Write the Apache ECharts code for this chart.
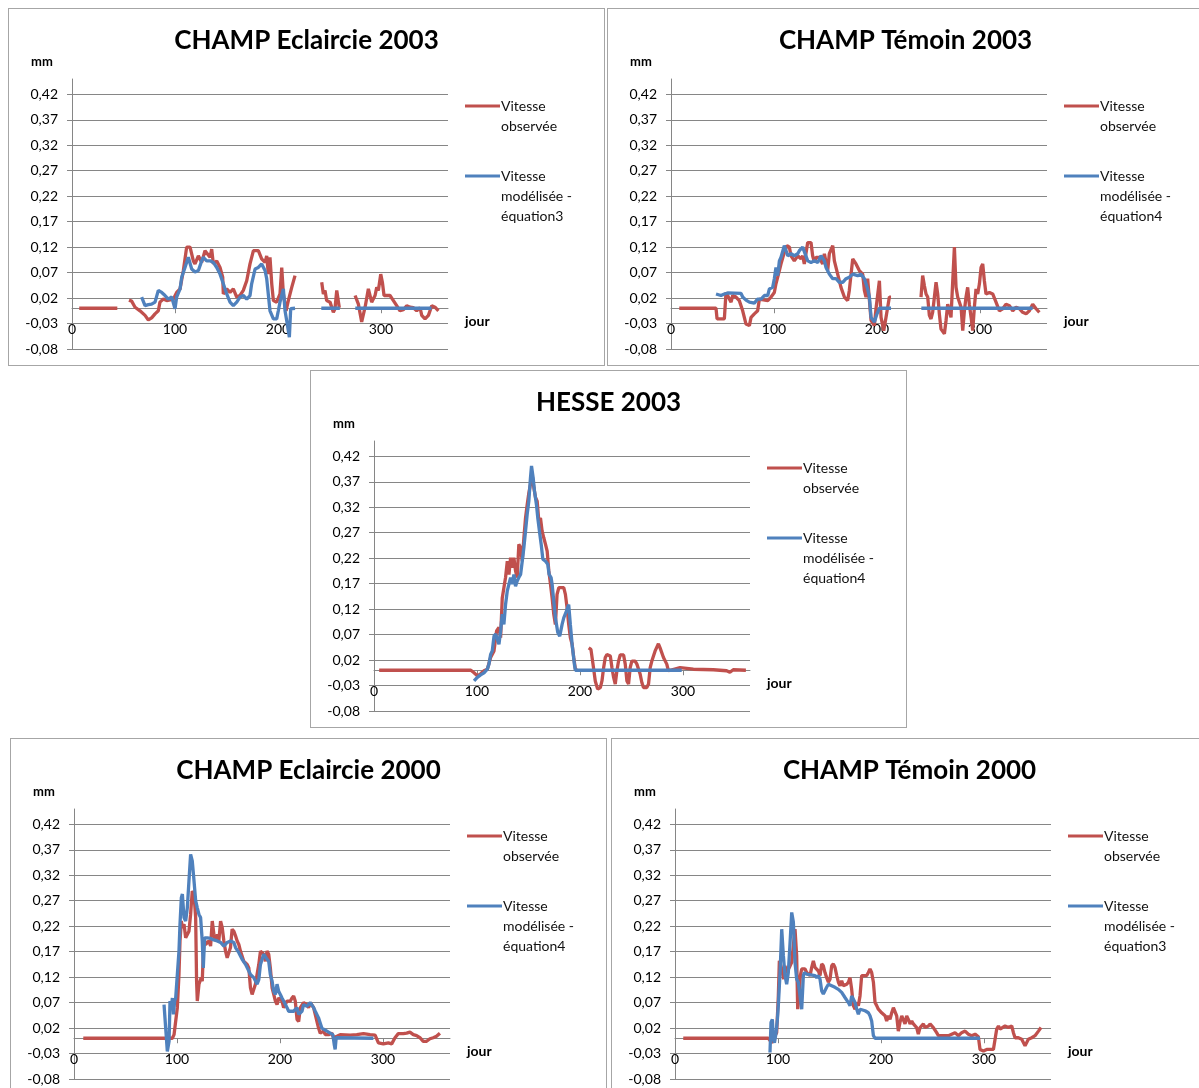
<!DOCTYPE html>
<html lang="fr">
<head>
<meta charset="UTF-8">
<title>Vitesse observée et modélisée</title>
<script src="https://cdn.jsdelivr.net/npm/echarts@6/dist/echarts.min.js"></script>
<style>
    body { margin: 0; background: #fff; width: 1199px; height: 1088px; overflow: hidden; position: relative; }
    .panel { position: absolute; width: 595px; height: 356px; border: 1px solid #a6a6a6; background: #fff; }
</style>
</head>
<body>
<div class="panel" id="p1" style="left:8px;top:8px"></div>
<div class="panel" id="p2" style="left:607px;top:8px"></div>
<div class="panel" id="p3" style="left:310px;top:370px"></div>
<div class="panel" id="p4" style="left:10px;top:738px"></div>
<div class="panel" id="p5" style="left:611px;top:738px"></div>
<script>
    // graduations
    var xTicks = [0, 100, 200, 300];
    var yTicks = [-0.08, -0.03, 0.02, 0.07, 0.12, 0.17, 0.22, 0.27, 0.32, 0.37, 0.42];

    // [jour, mm] ; null = trou dans la courbe
    var eclaircie2003Obs = [
        [7,0],[44,0],[50,null],
        [55.3,0.016],[57.9,0.014],[61.2,0.002],[66,-0.005],[70.9,-0.014],[74.1,-0.023],[77.3,-0.019],[80.6,-0.011],[83.8,-0.005],[85.4,0.012],[88.7,0.018],[91.9,0.015],[98.4,0.018],[101.6,0.031],[104.9,0.038],[108.1,0.074],[111.3,0.12],[114.6,0.12],[117.8,0.093],[119.4,0.087],[122.7,0.103],[125.9,0.09],[129.1,0.113],[130.7,0.116],[134,0.1],[135.6,0.116],[137.2,0.087],[140.5,0.093],[143.7,0.08],[146.3,0.061],[146.9,0.028],[150.2,0.038],[153.4,0.031],[156.6,0.038],[159.9,0.022],[163.1,0.025],[166.3,0.035],[169.6,0.054],[172.8,0.087],[176.1,0.113],[180.9,0.113],[184.1,0.097],[187.4,0.09],[189,0.103],[190.6,0.067],[192.2,0.1],[193.9,0.048],[195.5,0.015],[198.7,0.012],[201.9,0.028],[203.6,0.08],[205.2,0.028],[207.8,-0.005],[210,0.015],[213.3,0.041],[216.5,0.064],[230,null],
        [242.4,0.051],[244,0.028],[245.6,0.035],[247.2,0.015],[250.5,0.012],[253.7,-0.008],[255.3,-0.001],[257,0.035],[258.6,0.035],[259.5,0.001],[267,null],
        [274.8,0.025],[278,0.008],[281.2,-0.027],[284.5,0.002],[287.7,0.038],[290.9,0.012],[294.2,0.025],[295.8,0.041],[297.4,0.035],[299.7,0.067],[301.3,0.051],[302.9,0.025],[308.7,0.025],[312,0.015],[315.2,0.005],[318.4,-0.005],[321.7,-0.003],[324.9,0.005],[328.2,0.002],[331.4,0.001],[334.6,-0.005],[337.9,0.001],[339.5,-0.014],[342.7,-0.021],[346,-0.014],[349.2,0.005],[352.4,0.002],[355.7,-0.005]
    ];
    var eclaircie2003Mod = [
        [67.6,0.022],[70.9,0.005],[74.1,0.007],[77.3,0.008],[80.6,0.012],[83.8,0.035],[87.1,0.031],[90.3,0.025],[93.5,0.018],[96.8,0.022],[100,-0.001],[101.6,0.022],[104.9,0.038],[106.5,0.061],[109.7,0.08],[112.9,0.1],[116.2,0.077],[119.4,0.071],[122.7,0.074],[125.9,0.093],[127.5,0.1],[130.7,0.093],[134,0.093],[137.2,0.09],[140.5,0.08],[143.7,0.067],[146.9,0.048],[150.2,0.028],[153.4,0.012],[156.6,0.005],[159.9,0.012],[163.1,0.022],[166.3,0.025],[169.6,0.018],[172.8,0.025],[174.4,0.048],[177.7,0.077],[180.9,0.08],[184.1,0.087],[187.4,0.074],[189,0.058],[192.2,-0.005],[195.5,-0.021],[198.7,-0.021],[200.3,-0.005],[201.9,0.012],[205.2,0.038],[206.8,-0.005],[208.4,-0.024],[211,-0.057],[212.3,-0.001],[216.5,0],[230,null],
        [242,0],[260,0],[267,null],
        [275,0],[349,0]
    ];

    var temoin2003Obs = [
        [8,0],[43.7,0],[44.7,-0.021],[51.8,-0.021],[53.4,0.031],[58.3,0.012],[59.9,0.025],[63.1,0.022],[66.3,0.015],[69.6,-0.005],[72.8,-0.031],[76.1,-0.034],[77.7,-0.018],[80.9,-0.011],[84.1,-0.005],[85.8,0.018],[93.9,0.015],[97.1,0.022],[100.3,0.031],[101.9,0.048],[105.2,0.074],[106.8,0.087],[110,0.11],[112.6,0.123],[114.9,0.12],[116.5,0.103],[119.7,0.093],[123,0.103],[126.2,0.097],[127.8,0.103],[129.4,0.087],[132.7,0.129],[135.9,0.129],[137.5,0.103],[139.2,0.09],[140.8,0.1],[144,0.1],[147.2,0.087],[148.9,0.107],[152.1,0.074],[153.7,0.107],[157,0.123],[158.6,0.093],[161.8,0.067],[165,0.041],[168.3,0.022],[169.9,0.025],[171.5,0.015],[173.1,0.035],[176.4,0.097],[179.6,0.087],[182.8,0.074],[186.1,0.067],[187.7,0.035],[189.3,0.022],[190.9,0.058],[194.2,-0.024],[197.4,-0.034],[199,-0.001],[202.3,0.054],[203.9,-0.018],[206.5,-0.044],[208.7,-0.018],[212,0.022],[213.6,0.022],[228,null],
        [242.7,0.022],[244.3,0.064],[246,0.044],[247.6,0.028],[249.2,0.022],[250.8,-0.014],[252.4,-0.021],[254,-0.008],[255.7,0.022],[257.3,0.051],[258.9,0.028],[260.5,-0.011],[262.1,-0.041],[265.4,-0.05],[267,-0.024],[268.6,0.008],[270.2,-0.005],[271.8,-0.018],[273.5,0.054],[275.1,0.12],[276.7,0.041],[278.3,0.022],[281.6,0.002],[283.2,-0.044],[284.8,-0.005],[286.4,0.022],[288,0.041],[289.6,0.008],[291.3,-0.018],[292.9,-0.044],[294.5,0.002],[296.1,0.038],[297.7,0.028],[299.4,0.048],[301,0.08],[302.6,0.087],[304.2,0.054],[305.8,0.028],[309.1,0.031],[312.3,0.028],[315.5,0.012],[318.8,-0.005],[322,-0.001],[325.2,0.008],[328.5,0.005],[331.7,-0.005],[335,0.002],[338.2,-0.001],[341.4,-0.008],[344.7,-0.011],[347.9,-0.005],[351.1,0.008],[354.4,-0.001],[357.6,-0.008]
    ];
    var temoin2003Mod = [
        [43.7,0.028],[48.5,0.025],[51.8,0.028],[55,0.03],[68,0.029],[69.6,0.022],[72.8,0.016],[76.1,0.012],[80.9,0.01],[84.1,0.018],[87.4,0.018],[90.6,0.025],[93.9,0.025],[95.5,0.038],[98.7,0.041],[100.3,0.058],[101.9,0.08],[103.6,0.064],[105.2,0.093],[106.8,0.1],[110,0.123],[111.7,0.12],[113.3,0.103],[116.5,0.107],[119.7,0.103],[123,0.107],[124.6,0.113],[127.8,0.12],[129.4,0.123],[132.7,0.093],[135.9,0.09],[139.2,0.093],[142.4,0.09],[145.6,0.103],[148.9,0.093],[150.5,0.08],[153.7,0.067],[157,0.058],[160.2,0.058],[163.4,0.051],[166.7,0.051],[169.9,0.058],[173.1,0.061],[176.4,0.067],[181.2,0.064],[184.5,0.067],[187.7,0.058],[190.9,0.038],[192.6,0.022],[194.2,-0.018],[197.4,-0.027],[200,-0.011],[202.3,0],[213.6,0],[228,null],
        [243,0],[351,0]
    ];

    var hesse2003Obs = [
        [5,0],[94,0],[97.1,-0.005],[100.3,-0.011],[103.5,-0.007],[106.8,-0.001],[110,0.002],[113.2,0.025],[116.5,0.038],[119,0.077],[121.3,0.084],[122.9,0.064],[124.5,0.142],[126.1,0.162],[127.7,0.182],[129.4,0.214],[131,0.188],[132.6,0.221],[134.2,0.201],[135.8,0.221],[137.4,0.195],[139,0.182],[140.6,0.247],[142.3,0.241],[143.9,0.214],[145.5,0.26],[147.1,0.299],[148.7,0.325],[150.3,0.348],[151.9,0.365],[153.5,0.384],[155.2,0.358],[156.8,0.339],[158.4,0.332],[160,0.293],[161.6,0.299],[163.2,0.273],[164.8,0.26],[166.5,0.247],[168.1,0.234],[169.7,0.195],[171.3,0.169],[172.9,0.142],[174.5,0.11],[176.1,0.09],[177.7,0.149],[179.4,0.162],[184.2,0.162],[185.8,0.149],[187.4,0.123],[189,0.09],[190.6,0.064],[192.3,0.051],[193.9,0.025],[195.5,0.002],[197,0],[203,null],
        [208.4,0.044],[210.6,0.041],[212.6,0.012],[214.8,-0.021],[217.1,-0.037],[219.7,-0.034],[221.3,-0.021],[222.9,0.005],[224.5,0.025],[226.1,0.031],[229.4,0.028],[231,0.005],[232.6,-0.014],[234.2,-0.027],[235.8,-0.001],[237.4,0.018],[239,0.03],[242.3,0.03],[243.9,0.012],[245.5,-0.021],[247.1,-0.027],[248.7,0.005],[250.3,0.018],[253.5,0.018],[255.2,0.012],[258.4,-0.008],[260,-0.024],[261.6,-0.034],[264.8,-0.034],[266.5,-0.027],[268.1,0.005],[269.7,0.018],[272.9,0.038],[276.1,0.052],[277.7,0.044],[281,0.025],[284.2,0.012],[285.8,-0.001],[287.4,0.002],[297.1,0.005],[310,0.002],[329.4,0.001],[342.3,-0.001],[345.5,-0.004],[348.7,0.001],[361,0]
    ];
    var hesse2003Mod = [
        [97.1,-0.021],[100.3,-0.014],[103.5,-0.009],[106.8,-0.005],[110,0.002],[111.6,0.012],[113.2,0.031],[114.8,0.038],[116.5,0.067],[118.1,0.071],[119.7,0.061],[121.3,0.051],[122.9,0.077],[124.5,0.11],[126.1,0.09],[127.7,0.129],[129.4,0.156],[131,0.169],[132.6,0.182],[134.2,0.169],[135.8,0.188],[137.4,0.165],[139,0.175],[140.6,0.182],[142.3,0.188],[143.9,0.214],[145.5,0.241],[147.1,0.273],[148.7,0.306],[150.3,0.332],[151.9,0.378],[152.9,0.401],[154.5,0.378],[155.8,0.352],[157.7,0.325],[159,0.299],[160.6,0.273],[162.3,0.247],[163.9,0.218],[166.5,0.214],[168.7,0.208],[170,0.188],[171.9,0.182],[172.9,0.169],[174.5,0.136],[176.1,0.103],[178.4,0.074],[180.3,0.067],[182.6,0.09],[184.2,0.103],[186.8,0.116],[189,0.129],[190.6,0.09],[192.3,0.051],[194.5,0.012],[195.5,0],[298.7,0]
    ];

    var eclaircie2000Obs = [
        [9,0],[95.5,0],[97.1,0.007],[98.7,0.01],[100.3,0.06],[101.9,0.125],[102.9,0.191],[104.2,0.23],[105.2,0.217],[106.8,0.224],[108.4,0.197],[110,0.197],[111.6,0.21],[113.2,0.243],[114.8,0.289],[116.5,0.283],[118.1,0.237],[119,0.112],[119.7,0.073],[121.3,0.106],[123.5,0.119],[124.5,0.112],[126.1,0.197],[127.7,0.184],[131,0.191],[132.6,0.181],[134.2,0.23],[135.8,0.204],[137.4,0.191],[139,0.204],[140.6,0.191],[142.3,0.23],[143.9,0.217],[145.5,0.191],[147.1,0.171],[148.7,0.158],[150.3,0.158],[151.9,0.178],[153.5,0.214],[155.2,0.21],[156.8,0.201],[158.4,0.191],[160,0.184],[161.6,0.171],[164.8,0.151],[168.1,0.145],[169.7,0.138],[171.3,0.099],[172.9,0.086],[174.5,0.086],[176.1,0.106],[177.7,0.125],[179.4,0.145],[181,0.171],[182.6,0.174],[184.2,0.165],[185.8,0.151],[187.4,0.171],[189,0.165],[190.6,0.138],[192.3,0.099],[193.9,0.086],[195.5,0.073],[197.1,0.066],[198.7,0.079],[201.9,0.073],[203.5,0.06],[205.2,0.06],[206.8,0.073],[210,0.073],[211.6,0.079],[213.2,0.083],[214.8,0.073],[216.5,0.037],[218.1,0.033],[219.7,0.06],[221.3,0.06],[222.9,0.07],[226.1,0.066],[227.7,0.06],[229.4,0.07],[231,0.073],[232.6,0.06],[235.8,0.033],[237.4,0.02],[239,0.01],[242.3,0.014],[243.9,0.007],[247.1,0.007],[250.3,0.01],[251.9,0.001],[255.2,0.004],[258.4,0.007],[268.1,0.006],[274.5,0.007],[281,0.009],[287.4,0.007],[292.3,0.006],[295.5,-0.009],[300.3,-0.011],[305.2,-0.009],[308.4,-0.011],[311.6,0.001],[314.8,0.009],[319.7,0.009],[322.9,0.01],[326.1,0.012],[329.4,0.007],[332.6,0.005],[335.8,0.001],[339,-0.006],[342.3,-0.006],[345.5,-0.001],[348.7,0.001],[351.9,0.004],[355.2,0.01]
    ];
    var eclaircie2000Mod = [
        [87.4,0.066],[89,0.02],[90.6,-0.026],[92.3,-0.006],[93.2,0.073],[94.5,0.06],[95.5,0.079],[96.5,0.047],[97.7,0.073],[98.7,0.079],[100.3,0.125],[101.9,0.171],[102.9,0.224],[104.2,0.276],[105.2,0.283],[106.8,0.237],[108.4,0.23],[110,0.256],[111.6,0.309],[113.2,0.361],[114.8,0.348],[116.5,0.309],[118.1,0.27],[119.7,0.256],[121.3,0.243],[122.9,0.237],[124.5,0.191],[125.5,0.138],[126.8,0.197],[129.4,0.197],[132.6,0.196],[135.8,0.193],[139,0.191],[142.3,0.188],[145.5,0.181],[148.7,0.188],[151.9,0.191],[155.2,0.188],[156.8,0.178],[160,0.168],[163.2,0.155],[166.5,0.145],[169.7,0.132],[171.3,0.125],[174.5,0.119],[177.7,0.106],[179.4,0.115],[181,0.145],[184.2,0.165],[185.8,0.168],[187.4,0.155],[189,0.151],[190.6,0.125],[192.3,0.112],[193.9,0.092],[195.5,0.086],[197.1,0.106],[198.7,0.092],[200.3,0.086],[201.9,0.079],[203.5,0.073],[206.8,0.06],[208.4,0.053],[210,0.056],[213.2,0.053],[216.5,0.06],[218.1,0.047],[219.7,0.047],[221.3,0.053],[222.9,0.066],[226.1,0.063],[229.4,0.07],[232.6,0.06],[234.2,0.053],[237.4,0.04],[239,0.03],[240.6,0.02],[242.3,0.017],[245.5,0.014],[248.7,0.01],[251.3,0.007],[252.6,-0.012],[253.5,-0.022],[254.5,0.001],[290.6,0]
    ];

    var temoin2000Obs = [
        [8,0],[90.6,0],[92.2,-0.002],[93.9,-0.009],[95.5,-0.002],[97.1,0.005],[98.7,0.011],[100.3,0.083],[101.3,0.152],[102.9,0.142],[104.2,0.129],[105.5,0.116],[106.8,0.142],[108.4,0.129],[110,0.129],[111.7,0.142],[113.3,0.149],[114.9,0.182],[116.5,0.214],[118.1,0.162],[119.1,0.057],[120.4,0.083],[121.7,0.123],[123,0.136],[126.2,0.136],[127.8,0.129],[129.4,0.132],[131.1,0.123],[132.7,0.139],[134.3,0.152],[135.9,0.139],[137.5,0.142],[139.2,0.132],[140.8,0.123],[142.4,0.146],[144,0.142],[145.6,0.129],[147.2,0.119],[148.9,0.11],[150.5,0.116],[152.1,0.142],[153.7,0.146],[155.3,0.139],[157,0.123],[158.6,0.11],[160.2,0.103],[161.8,0.113],[163.4,0.103],[165,0.1],[166.7,0.106],[168.3,0.11],[169.9,0.119],[171.5,0.096],[173.1,0.064],[174.8,0.057],[176.4,0.07],[178,0.064],[179.6,0.083],[181.2,0.123],[182.8,0.126],[186.1,0.123],[187.7,0.129],[189.3,0.136],[190.9,0.129],[192.6,0.11],[194.2,0.07],[195.8,0.064],[197.4,0.057],[200.6,0.05],[203.9,0.044],[205.5,0.034],[207.1,0.044],[208.7,0.037],[210.4,0.05],[212,0.06],[213.6,0.057],[215.2,0.044],[216.8,0.014],[218.4,0.031],[220.1,0.044],[221.7,0.041],[223.3,0.028],[224.9,0.044],[226.5,0.037],[228.2,0.028],[229.8,0.034],[231.4,0.028],[233,0.031],[234.6,0.021],[236.2,0.008],[237.9,0.021],[239.5,0.024],[241.1,0.028],[242.7,0.021],[246,0.024],[247.6,0.028],[250.8,0.021],[252.4,0.018],[254,0.011],[255.7,0.005],[265.4,0.005],[268.6,0.008],[271.8,0.011],[275.1,0.005],[278.3,0.011],[281.6,0.014],[284.8,0.008],[288,0.005],[291.3,0.008],[294.5,0.003],[296.1,-0.022],[299.4,-0.025],[302.6,-0.022],[309.1,-0.022],[310.7,-0.002],[312.3,0.018],[314,0.024],[315.5,0.018],[317.2,0.021],[320.4,0.024],[323.6,0.021],[326.9,0.024],[328.5,0.011],[330.1,0.001],[333.3,0.001],[336.6,-0.002],[339.8,-0.015],[341.4,-0.012],[343,-0.002],[346.3,0.001],[349.5,0.005],[352.8,0.014],[355.3,0.021]
    ];
    var temoin2000Mod = [
        [92.2,-0.028],[93.2,0.031],[94.5,0.037],[95.5,-0.002],[96.5,-0.009],[97.1,-0.002],[98.1,0.011],[99.4,0.037],[100.3,0.064],[102,0.129],[103.6,0.214],[105.2,0.162],[106.8,0.123],[108.4,0.106],[110,0.129],[111.7,0.188],[113.3,0.247],[114.9,0.228],[116.5,0.149],[118.1,0.116],[119.7,0.11],[121.4,0.113],[123,0.057],[124.6,0.123],[125.6,0.129],[127.8,0.126],[129.4,0.123],[135.9,0.123],[137.5,0.119],[139.2,0.123],[140.8,0.116],[142.4,0.093],[144,0.087],[145.6,0.087],[147.2,0.1],[148.9,0.106],[152.1,0.103],[155.3,0.1],[158.6,0.096],[161.8,0.09],[165,0.08],[168.3,0.07],[169.9,0.064],[171.5,0.083],[174.8,0.07],[176.4,0.057],[178,0.047],[179.6,0.057],[181.2,0.06],[184.5,0.054],[187.7,0.05],[189.3,0.044],[190.9,0.034],[192.6,0.005],[194.2,0],[296.1,0]
    ];

    var FONT = 'Lato, "Open Sans", sans-serif';
    var ROUGE = '#C0504D';
    var BLEU = '#4F81BD';
    var GRIS = '#868686';
    var Y_MIN = -0.08, Y_MAX = 0.45, GRID_H = 270;

    function texteLegende(nom) {
        if (nom === 'Vitesse observée') return '\nVitesse\nobservée';
        return '\n\nVitesse\nmodélisée -\n' + nom.split('- ')[1];
    }

    function graphique(id, titre, obs, mod, equation) {
        var chart = echarts.init(document.getElementById(id));
        var nomMod = 'Vitesse modélisée - ' + equation;
        // l'axe des jours croise l'axe des mm en 0
        var decalageZero = -GRID_H * (0 - Y_MIN) / (Y_MAX - Y_MIN);
        chart.setOption({
            animation: false,
            backgroundColor: '#fff',
            textStyle: { fontFamily: FONT },
            title: [
                { text: titre, left: 'center', top: 19, padding: 0,
                  textStyle: { fontFamily: FONT, fontSize: 26, fontWeight: 'bold', color: '#000' } },
                { text: 'mm', left: 22, top: 46, padding: 0,
                  textStyle: { fontFamily: FONT, fontSize: 13, fontWeight: 'bold', color: '#000' } },
                { text: 'jour', left: 456, top: 305, padding: 0,
                  textStyle: { fontFamily: FONT, fontSize: 14, fontWeight: 'bold', color: '#000' } }
            ],
            legend: {
                orient: 'vertical', left: 456, top: 67, padding: 0, itemGap: -10,
                icon: 'rect', itemWidth: 35, itemHeight: 3,
                data: ['Vitesse observée', nomMod],
                formatter: texteLegende,
                textStyle: { fontFamily: FONT, fontSize: 14, lineHeight: 20, color: '#111', padding: [0, 0, 0, -4] }
            },
            grid: { left: 63, top: 70, width: 376, height: GRID_H, outerBoundsMode: 'none', containLabel: false },
            xAxis: {
                type: 'value', min: 0, max: 365, offset: decalageZero,
                axisLine: { onZero: false, lineStyle: { color: GRIS, width: 1 } },
                axisTick: { show: true, customValues: xTicks, length: 5, lineStyle: { color: GRIS } },
                axisLabel: { customValues: xTicks, margin: 14, fontSize: 14, color: '#000', fontFamily: FONT },
                splitLine: { show: false }
            },
            yAxis: {
                type: 'value', min: Y_MIN, max: Y_MAX, interval: 0.05,
                axisLine: { show: true, onZero: false, lineStyle: { color: GRIS, width: 1 } },
                axisTick: { show: true, customValues: yTicks, length: 5, lineStyle: { color: GRIS } },
                axisLabel: {
                    customValues: yTicks, margin: 14, fontSize: 14, color: '#000', fontFamily: FONT,
                    formatter: function (v) { return v.toFixed(2).replace('.', ','); }
                },
                splitLine: { show: true, lineStyle: { color: GRIS, width: 1 } }
            },
            series: [
                { name: 'Vitesse observée', type: 'line', data: obs, symbol: 'none',
                  color: ROUGE, lineStyle: { color: ROUGE, width: 3.3 } },
                { name: nomMod, type: 'line', data: mod, symbol: 'none',
                  color: BLEU, lineStyle: { color: BLEU, width: 3.3 } }
            ]
        });
    }

    graphique('p1', 'CHAMP Eclaircie 2003', eclaircie2003Obs, eclaircie2003Mod, 'équation3');
    graphique('p2', 'CHAMP Témoin 2003', temoin2003Obs, temoin2003Mod, 'équation4');
    graphique('p3', 'HESSE 2003', hesse2003Obs, hesse2003Mod, 'équation4');
    graphique('p4', 'CHAMP Eclaircie 2000', eclaircie2000Obs, eclaircie2000Mod, 'équation4');
    graphique('p5', 'CHAMP Témoin 2000', temoin2000Obs, temoin2000Mod, 'équation3');
</script>
</body>
</html>
